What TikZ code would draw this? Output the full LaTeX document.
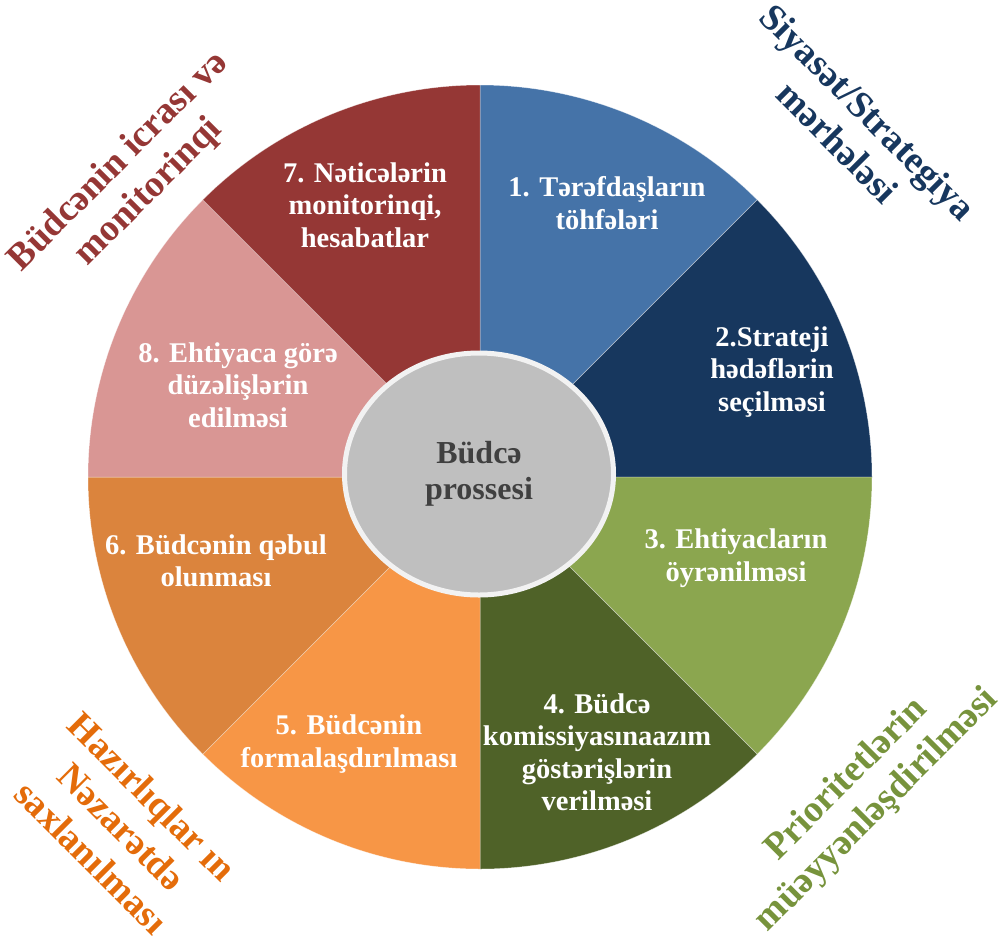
\documentclass[tikz,border=0pt]{standalone}
\usepackage{fontspec}
\setmainfont{Liberation Serif}
\usetikzlibrary{shapes.geometric}
\definecolor{cA}{HTML}{4573A8}
\definecolor{cB}{HTML}{17375E}
\definecolor{cC}{HTML}{8BA64F}
\definecolor{cD}{HTML}{4F6228}
\definecolor{cE}{HTML}{F79646}
\definecolor{cF}{HTML}{DB843D}
\definecolor{cG}{HTML}{953735}
\definecolor{cH}{HTML}{D99694}
\definecolor{cMid}{HTML}{BFBFBF}
\definecolor{cMidB}{HTML}{F2F2F2}
\definecolor{cMidT}{HTML}{404040}
\definecolor{oOrange}{HTML}{E46C0A}
\definecolor{oGreen}{HTML}{77933C}
\tikzset{
  segtext/.style={text=white, font=\bfseries\fontsize{28.5}{32.5}\selectfont, align=center, inner sep=0pt},
  outer/.style={font=\bfseries\fontsize{37.5}{43}\selectfont, align=center, inner sep=0pt},
  sector/.style={draw=white, draw opacity=0.5, line width=0.5pt}
}
\begin{document}
\begin{tikzpicture}[x=1pt,y=1pt]
\useasboundingbox (0,0) rectangle (1005,-938);
\coordinate (O) at (480,-477);
% sectors
\foreach \i/\c in {1/cA,2/cB,3/cC,4/cD,5/cE,6/cF,7/cH,8/cG}{
  \pgfmathsetmacro\sa{90-45*(\i-1)}
  \pgfmathsetmacro\ea{90-45*\i}
  \filldraw[sector, fill=\c] (O) -- ++(\sa:392) arc[start angle=\sa, end angle=\ea, radius=392] -- cycle;
}
% center
\node[ellipse, minimum width=269pt, minimum height=242pt, inner sep=0pt, fill=cMid, draw=cMidB, line width=5pt,
      text=cMidT, font=\bfseries\fontsize{32}{36}\selectfont, align=center] (c) at (479,-474) {Büdcə\\prossesi};
% segment texts
\node[segtext] (s1) at (607,-203) {1. Tərəfdaşların\\töhfələri};
\node[segtext] (s2) at (772,-372) {2.Strateji\\hədəflərin\\seçilməsi};
\node[segtext] (s3) at (736,-558) {3. Ehtiyacların\\öyrənilməsi};
\node[segtext] (s4) at (597,-752) {4. Büdcə\\komissiyasınaazım\\göstərişlərin\\verilməsi};
\node[segtext] (s5) at (349,-744) {5. Büdcənin\\formalaşdırılması};
\node[segtext] (s6) at (216,-561) {6. Büdcənin qəbul\\olunması};
\node[segtext] (s7) at (365,-205) {7. Nəticələrin\\monitorinqi,\\hesabatlar};
\node[segtext] (s8) at (238,-385) {8. Ehtiyaca görə\\düzəlişlərin\\edilməsi};
% outer labels
\node[outer, text=cB, rotate=-45] (o1) at (853,-127) {Siyasət/Strategiya\\mərhələsi};
\node[outer, text=cG, rotate=45] (o2) at (134,-177) {Büdcənin icrası və\\monitorinqi};
\node[outer, text=oOrange, rotate=-45] (o3) at (122,-827) {Hazırlıqlar ın\\Nəzarətdə\\saxlanılması};
\node[outer, text=oGreen, rotate=45] (o4) at (862,-795) {Prioritetlərin\\müəyyənləşdirilməsi};
\end{tikzpicture}
\end{document}
